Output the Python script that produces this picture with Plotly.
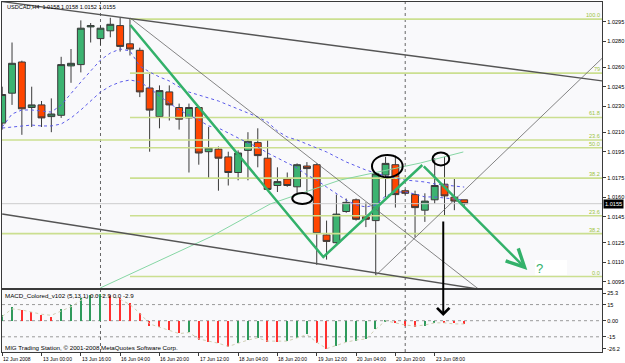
import plotly.graph_objects as go

W, H = 625, 363

# ---------------- data ----------------
bar_index = list(range(48))
opens = [1.0217, 1.0240, 1.0264, 1.0229, 1.0231, 1.0222, 1.0223, 1.0261, 1.0262, 1.0291,
         1.0282, 1.0288, 1.0292, 1.0278, 1.0273, 1.0244, 1.0222, 1.0241, 1.0229, 1.0221,
         1.0229, 1.0195, 1.0197, 1.0191, 1.0179, 1.0196, 1.0202, 1.0190, 1.0169, 1.0174,
         1.0168, 1.0184, 1.0185, 1.0131, 1.0125, 1.0149, 1.0158, 1.0145, 1.0142, 1.0177,
         1.0185, 1.0165, 1.0162, 1.0150, 1.0158, 1.0170, 1.0160, 1.0158]
highs = [1.0245, 1.0279, 1.0265, 1.0245, 1.0234, 1.0236, 1.0268, 1.0274, 1.0296, 1.0294,
         1.0292, 1.0298, 1.0298, 1.0297, 1.0275, 1.0256, 1.0246, 1.0246, 1.0232, 1.0232,
         1.0230, 1.0214, 1.0199, 1.0195, 1.0196, 1.0210, 1.0213, 1.0204, 1.0183, 1.0179,
         1.0186, 1.0187, 1.0186, 1.0142, 1.0162, 1.0159, 1.0159, 1.0156, 1.0179, 1.0191,
         1.0192, 1.0166, 1.0165, 1.0163, 1.0190, 1.0191, 1.0174, 1.0158]
lows = [1.0212, 1.0231, 1.0208, 1.0214, 1.0214, 1.0210, 1.0221, 1.0248, 1.0256, 1.0279,
        1.0277, 1.0283, 1.0272, 1.0269, 1.0237, 1.0195, 1.0213, 1.0219, 1.0212, 1.0179,
        1.0185, 1.0174, 1.0165, 1.0169, 1.0173, 1.0173, 1.0183, 1.0165, 1.0164, 1.0168,
        1.0163, 1.0163, 1.0108, 1.0112, 1.0124, 1.0148, 1.0142, 1.0137, 1.0100, 1.0160,
        1.0152, 1.0162, 1.0129, 1.0141, 1.0155, 1.0146, 1.0150, 1.0152]
closes = [1.0239, 1.0263, 1.0228, 1.0231, 1.0221, 1.0224, 1.0262, 1.0263, 1.0290, 1.0292,
          1.0290, 1.0293, 1.0276, 1.0274, 1.0241, 1.0227, 1.0242, 1.0231, 1.0220, 1.0229,
          1.0194, 1.0198, 1.0190, 1.0179, 1.0194, 1.0203, 1.0192, 1.0166, 1.0172, 1.0169,
          1.0185, 1.0182, 1.0132, 1.0126, 1.0147, 1.0156, 1.0143, 1.0143, 1.0178, 1.0186,
          1.0162, 1.0163, 1.0152, 1.0157, 1.0169, 1.0161, 1.0157, 1.0155]

ma_fast = [1.02140, 1.02240, 1.02271, 1.02271, 1.02263, 1.02255, 1.02309, 1.02401, 1.02486, 1.02571,
           1.02655, 1.02709, 1.02740, 1.02725, 1.02609, 1.02563, 1.02525, 1.02494, 1.02448, 1.02409,
           1.02386, 1.02363, 1.02340, 1.02309, 1.02278, 1.02248, 1.02217, 1.02178, 1.02109, 1.02063,
           1.02040, 1.02009, 1.01978, 1.01948, 1.01909, 1.01871, 1.01840, 1.01809, 1.01786, 1.01763,
           1.01748, 1.01732, 1.01725, 1.01717, 1.01702, 1.01694, 1.01686, 1.01678]
ma_slow = [1.02132, 1.02140, 1.02148, 1.02155, 1.02148, 1.02148, 1.02163, 1.02209, 1.02271, 1.02340,
           1.02409, 1.02455, 1.02486, 1.02502, 1.02486, 1.02440, 1.02378, 1.02325, 1.02271, 1.02232,
           1.02194, 1.02148, 1.02132, 1.02094, 1.02055, 1.02017, 1.01986, 1.01940, 1.01902, 1.01863,
           1.01825, 1.01771, 1.01732, 1.01678, 1.01625, 1.01578, 1.01540, 1.01525, 1.01540, 1.01609,
           1.01640, 1.01640, 1.01625, 1.01602, 1.01602, 1.01594, 1.01586, 1.01578]

macd_hist = [5.0, 13.0, 10.0, 7.8, 5.3, 3.7, 10.6, 14.6, 20.8, 23.9,
             25.3, 23.9, 20.8, 16.2, 6.9, -4.6, -5.6, -8.7, -11.8, -10.2,
             -18.0, -19.5, -21.0, -24.2, -21.0, -18.0, -15.8, -19.5, -19.8, -19.3,
             -16.4, -12.7, -21.0, -26.2, -23.6, -19.5, -18.9, -17.4, -8.0, -0.5,
             -2.4, -4.6, -5.6, -4.6, -2.0, -2.5, -2.6, -2.9]
macd_signal = [4, 11, 10, 8, 6, 5, 9, 13, 19, 23,
               24, 23, 20, 15, 7, -3, -6, -9, -12, -11,
               -17, -19, -21, -24, -21, -18, -16, -19, -19, -19,
               -16, -13, -20, -26, -23, -20, -18, -17, -8, 0,
               -2, -4, -5, -4, -2, -2, -3, -3]

price_ticks = [1.0295, 1.0280, 1.0260, 1.0245, 1.0230, 1.0210, 1.0195,
               1.0175, 1.0160, 1.0145, 1.0125, 1.0110, 1.0095]
bid_price = 1.0155
macd_ticks = [25.3, 15, 0, -15, -26.2]
macd_tick_text = ["25.3", "15", "0.00", "-15", "-26.2"]
macd_grid = [15, 0, -15]
time_tick_bars = [0, 4, 8, 12, 16, 20, 24, 28, 32, 36, 40, 44]
time_tick_labels = ["12 Jun 2008", "13 Jun 00:00", "13 Jun 16:00", "16 Jun 04:00",
                    "16 Jun 20:00", "17 Jun 12:00", "18 Jun 04:00", "18 Jun 20:00",
                    "19 Jun 12:00", "20 Jun 04:00", "20 Jun 20:00", "23 Jun 08:00"]
week_separators = [10, 41]

header_text = "USDCAD,H4  1.0158 1.0158 1.0152 1.0155"
macd_title = "MACD_Colored_v102 (5,13,1) 0.0 -2.9 0.0 -2.9"
footer_text = "MIG Trading Station, © 2001-2008 MetaQuotes Software Corp."

# Fibonacci retracement A (drawn from bar 13)
fibA_high, fibA_low, fibA_start = 1.0297, 1.0099, 13.0
fibA_ratios = [0.0, 23.6, 38.2, 50.0, 61.8, 79.0, 100.0]
fibA_labels = ["0.0", "23.6", "38.2", "50.0", "61.8", "79", "100.0"]
# second retracement: only two levels visible
fibB_prices = [1.0204, 1.0132]
fibB_labels = ["23.6", "38.2"]

# drawn objects, in (bar, price)
trend_top = ([0.0, 61.1], [1.03104, 1.02494])
trend_low = ([0.0, 50.15], [1.01471, 1.00873])
thin_down = ([13.03, 48.84], [1.02978, 1.00871])
thin_up = ([38.06, 61.86], [1.01002, 1.02729])
thin_green = ([9.98, 21.17, 27.27, 34.39, 42.54, 46.91],
              [1.00902, 1.01294, 1.01548, 1.01732, 1.01863, 1.01948])
zigzag = ([13.03, 32.67, 42.74], [1.02925, 1.01140, 1.01848])
zigzag_arrow_tip = (53.42, 1.01040)
ellipses = [((29.51, 31.55), (1.01548, 1.01632)),
            ((37.62, 40.74), (1.01753, 1.01925)),
            ((43.78, 45.48), (1.01844, 1.01944))]
black_arrow_bar = 44.87

# ---------------- layout geometry ----------------
def pxx(px):
    return px / W

def pxy(py):
    return 1 - py / H

X_DOM = [pxx(2), pxx(602)]
X_RANGE = [-0.02, 61.02]
Y_MAIN_DOM = [pxy(288), pxy(2)]
Y_MAIN_RANGE = [1.0090154, 1.0310154]
Y_MACD_DOM = [pxy(352), pxy(290)]
Y_MACD_RANGE = [-29.14, 28.58]

FONT = "Liberation Sans, Arial, sans-serif"
GREEN_C = "#3cb371"
RED_C = "#ff4500"
WICK = "#3a3a3a"
FIB_C = "#cbdf90"
FIB_TXT = "#9cc43c"
ZIG_C = "#33b16a"

fig = go.Figure()

# fib lines (behind)
for r in fibA_ratios:
    lvl = fibA_low + (fibA_high - fibA_low) * r / 100.0
    fig.add_trace(go.Scatter(x=[fibA_start, X_RANGE[1] + 1], y=[lvl, lvl], mode="lines",
                             line=dict(color=FIB_C, width=1.6), hoverinfo="skip", xaxis="x", yaxis="y"))
for lvl in fibB_prices:
    fig.add_trace(go.Scatter(x=[X_RANGE[0] - 1, X_RANGE[1] + 1], y=[lvl, lvl], mode="lines",
                             line=dict(color=FIB_C, width=1.6), hoverinfo="skip", xaxis="x", yaxis="y"))
# bid line
fig.add_trace(go.Scatter(x=[X_RANGE[0] - 1, X_RANGE[1] + 1], y=[bid_price, bid_price], mode="lines",
                         line=dict(color="#cccccc", width=1), hoverinfo="skip", xaxis="x", yaxis="y"))
# thin green line
fig.add_trace(go.Scatter(x=thin_green[0], y=thin_green[1], mode="lines",
                         line=dict(color="#86d6a4", width=1), hoverinfo="skip", xaxis="x", yaxis="y"))

# candles
fig.add_trace(go.Candlestick(
    x=bar_index, open=opens, high=highs, low=lows, close=closes,
    increasing=dict(fillcolor=GREEN_C, line=dict(color=WICK, width=1)),
    decreasing=dict(fillcolor=RED_C, line=dict(color=WICK, width=1)),
    whiskerwidth=0, hoverinfo="skip", xaxis="x", yaxis="y"))

# moving averages
for ma in (ma_fast, ma_slow):
    fig.add_trace(go.Scatter(x=bar_index, y=ma, mode="lines",
                             line=dict(color="#5b5bea", width=1, dash="dot"),
                             hoverinfo="skip", xaxis="x", yaxis="y"))

# trend lines
for ln, col, wd in ((trend_top, "#555555", 1.4), (trend_low, "#555555", 1.4),
                    (thin_down, "#666666", 0.8), (thin_up, "#666666", 0.8)):
    fig.add_trace(go.Scatter(x=ln[0], y=ln[1], mode="lines", line=dict(color=col, width=wd),
                             hoverinfo="skip", xaxis="x", yaxis="y"))
# zigzag
fig.add_trace(go.Scatter(x=zigzag[0], y=zigzag[1], mode="lines", line=dict(color=ZIG_C, width=2.5),
                         hoverinfo="skip", xaxis="x", yaxis="y"))

# MACD
macd_colors = []
for i, v in enumerate(macd_hist):
    if i == 0 or v > macd_hist[i - 1]:
        macd_colors.append("#2f9a5c")
    else:
        macd_colors.append("#ff3030")
fig.add_trace(go.Bar(x=bar_index, y=macd_hist, marker=dict(color=macd_colors, line=dict(width=0)),
                     width=0.15, hoverinfo="skip", xaxis="x2", yaxis="y2"))
fig.add_trace(go.Scatter(x=bar_index, y=macd_signal, mode="lines",
                         line=dict(color="#cfcfb4", width=1, dash="dot"),
                         hoverinfo="skip", xaxis="x2", yaxis="y2"))

shapes = []
for g in macd_grid:
    shapes.append(dict(type="line", xref="paper", yref="y2", x0=X_DOM[0], x1=X_DOM[1], y0=g, y1=g,
                       line=dict(color="#9a9a9a", width=1, dash="dot"), layer="below"))
for b in week_separators:
    shapes.append(dict(type="line", xref="x", yref="paper", x0=b, x1=b, y0=Y_MACD_DOM[0], y1=Y_MAIN_DOM[1],
                       line=dict(color="#666666", width=1, dash="dot"), layer="below"))
for (bx, py) in ellipses:
    shapes.append(dict(type="circle", xref="x", yref="y", x0=bx[0], x1=bx[1], y0=py[0], y1=py[1],
                       line=dict(color="black", width=2)))
# white box behind '?'
shapes.append(dict(type="rect", xref="paper", yref="paper", x0=pxx(535), x1=pxx(567),
                   y0=pxy(275), y1=pxy(260), fillcolor="white", line=dict(width=0), layer="below"))

annotations = []
small = dict(family=FONT, size=5.6, color="black")
annotations.append(dict(xref="paper", yref="paper", x=pxx(5), y=pxy(6.5), text=header_text,
                        showarrow=False, xanchor="left", yanchor="middle", font=small))
annotations.append(dict(xref="paper", yref="paper", x=pxx(3), y=pxy(295.5), text=macd_title,
                        showarrow=False, xanchor="left", yanchor="middle",
                        font=dict(family=FONT, size=6.2, color="black")))
annotations.append(dict(xref="paper", yref="paper", x=pxx(3), y=pxy(347), text=footer_text,
                        showarrow=False, xanchor="left", yanchor="middle",
                        font=dict(family=FONT, size=6.2, color="black")))
for b, lab in zip(time_tick_bars, time_tick_labels):
    annotations.append(dict(xref="x2", yref="paper", x=b, y=pxy(358.5), text=lab, showarrow=False,
                            xanchor="left", yanchor="middle", xshift=-1,
                            font=dict(family=FONT, size=5.0, color="black")))
for r, lab in zip(fibA_ratios, fibA_labels):
    lvl = fibA_low + (fibA_high - fibA_low) * r / 100.0
    annotations.append(dict(xref="paper", yref="y", x=pxx(601), y=lvl, text=lab, showarrow=False,
                            xanchor="right", yanchor="bottom", borderpad=0,
                            font=dict(family=FONT, size=5.6, color=FIB_TXT)))
for lvl, lab in zip(fibB_prices, fibB_labels):
    annotations.append(dict(xref="paper", yref="y", x=pxx(601), y=lvl, text=lab, showarrow=False,
                            xanchor="right", yanchor="bottom", borderpad=0,
                            font=dict(family=FONT, size=5.6, color=FIB_TXT)))
# bid price label
annotations.append(dict(xref="paper", yref="y", x=pxx(603), y=bid_price, text="%.4f" % bid_price,
                        showarrow=False, xanchor="left", yanchor="middle", bgcolor="black", borderpad=1,
                        font=dict(family=FONT, size=5.6, color="white")))
# green arrow end of the zigzag
annotations.append(dict(xref="x", yref="y", x=zigzag_arrow_tip[0], y=zigzag_arrow_tip[1],
                        axref="x", ayref="y", ax=zigzag[0][-1], ay=zigzag[1][-1], text="",
                        showarrow=True, arrowhead=5, arrowsize=1.4, arrowwidth=2.5, arrowcolor=ZIG_C))
annotations.append(dict(xref="paper", yref="paper", x=pxx(534), y=pxy(268), text="?", showarrow=False,
                        xanchor="left", yanchor="middle",
                        font=dict(family=FONT, size=13, color=ZIG_C)))
# black arrow (from price panel down into MACD panel)
annotations.append(dict(xref="x", yref="paper", x=black_arrow_bar, y=pxy(316), text="",
                        axref="pixel", ayref="pixel", ax=0, ay=-96,
                        showarrow=True, arrowhead=4, arrowsize=1.2, arrowwidth=2, arrowcolor="black"))

axis_common = dict(showgrid=False, zeroline=False, showline=True, mirror=True,
                   linecolor="#3a3a3a", linewidth=1.2, fixedrange=True)

fig.update_layout(
    width=W, height=H, margin=dict(l=0, r=0, t=0, b=0),
    paper_bgcolor="white", plot_bgcolor="#f9f9fb", showlegend=False,
    boxgap=0.3, boxgroupgap=0,
    xaxis=dict(domain=X_DOM, range=X_RANGE, anchor="y", showticklabels=False, ticks="",
               rangeslider=dict(visible=False), **axis_common),
    xaxis2=dict(domain=X_DOM, range=X_RANGE, anchor="y2", tickvals=time_tick_bars, ticks="outside",
                ticklen=3, tickcolor="#3a3a3a", showticklabels=False, **axis_common),
    yaxis=dict(domain=Y_MAIN_DOM, range=Y_MAIN_RANGE, anchor="x", side="right",
               tickvals=price_ticks, ticktext=["%.4f" % v for v in price_ticks],
               ticks="outside", ticklen=3, tickcolor="#3a3a3a",
               tickfont=dict(family=FONT, size=5.6, color="black"), **axis_common),
    yaxis2=dict(domain=Y_MACD_DOM, range=Y_MACD_RANGE, anchor="x2", side="right",
                tickvals=macd_ticks, ticktext=macd_tick_text,
                ticks="outside", ticklen=3, tickcolor="#3a3a3a",
                tickfont=dict(family=FONT, size=5.6, color="black"), **axis_common),
    shapes=shapes, annotations=annotations, bargap=0,
)

fig.write_html("out.html")
